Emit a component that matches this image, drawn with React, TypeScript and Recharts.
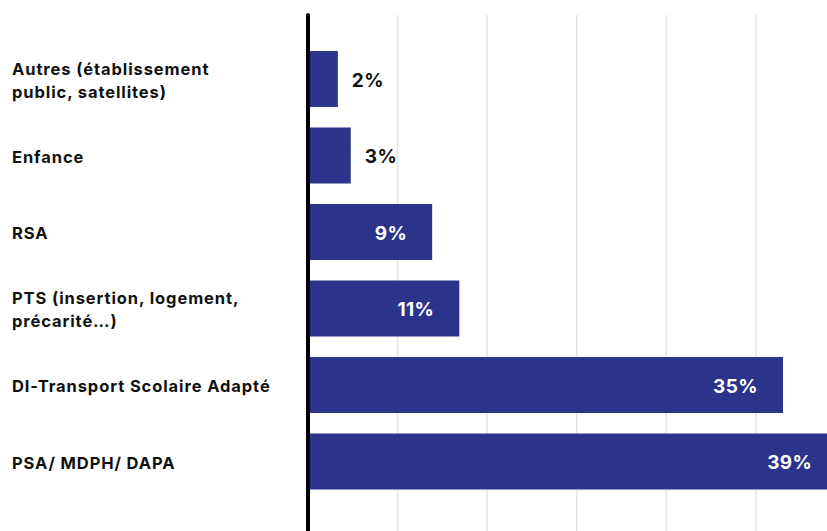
import { Bar, BarChart, CartesianGrid, LabelList, XAxis, YAxis } from "recharts";

const categories = [
  "Autres (établissement\npublic, satellites)",
  "Enfance",
  "RSA",
  "PTS (insertion, logement,\nprécarité…)",
  "DI-Transport Scolaire Adapté",
  "PSA/ MDPH/ DAPA",
];
const shares = [2.2, 3.15, 9.15, 11.15, 35.0, 39.0];
const gridTicks = [0, 6.6, 13.2, 19.8, 26.4, 33, 39.6];

const data = categories.map((name, i) => ({ name, value: shares[i] }));

const FONT = "Inter, 'Noto Sans', sans-serif";
const BAR_COLOR = "#29348a";
const DOMAIN_MAX = 42;

function CategoryTick(props: any) {
  const { y, payload } = props;
  const lines = String(payload.value).split("\n");
  const lh = 23;
  const y0 = y - ((lines.length - 1) * lh) / 2 + 1;
  return (
    <text x={12} y={y0} fontFamily={FONT} fontSize={16.5} fontWeight={700} letterSpacing={0.9} fill="#111" textAnchor="start">
      {lines.map((l, i) => (
        <tspan key={i} x={12} y={y0 + i * lh} dominantBaseline="central">
          {l}
        </tspan>
      ))}
    </text>
  );
}

function ValueLabel(props: any) {
  const { x, y, width, height, value } = props;
  const txt = `${Math.round(value)}%`;
  const inside = value > 5;
  return (
    <text
      x={inside ? x + width - 25 : x + width + 14}
      y={y + height / 2 + 1}
      textAnchor={inside ? "end" : "start"}
      dominantBaseline="central"
      fontFamily={FONT}
      fontSize={19}
      fontWeight={700}
      letterSpacing={0.4}
      fill={inside ? "#fff" : "#111"}
    >
      {txt}
    </text>
  );
}

// grid lines at the tick values, placed through the x scale
function gridX({ xAxis, offset }: any) {
  if (xAxis && typeof xAxis.scale === "function") {
    return gridTicks.map((t) => xAxis.scale(t));
  }
  return gridTicks.map((t) => offset.left + (t / DOMAIN_MAX) * offset.width);
}

export default function App() {
  return (
    <div style={{ position: "absolute", left: 0, top: 0, width: 827, height: 531, overflow: "hidden", background: "#fff" }}>
      <BarChart
        width={878}
        height={531}
        data={data}
        layout="vertical"
        margin={{ top: 15, right: 0, bottom: 0, left: 0 }}
      >
        <CartesianGrid horizontal={false} stroke="#e4e4ea" strokeWidth={1.5} verticalCoordinatesGenerator={gridX} />
        <XAxis
          type="number"
          domain={[0, DOMAIN_MAX]}
          ticks={gridTicks}
          allowDataOverflow
          tick={false}
          tickLine={false}
          axisLine={false}
          height={0}
        />
        <YAxis
          type="category"
          dataKey="name"
          width={308}
          tick={<CategoryTick />}
          tickLine={false}
          axisLine={{ stroke: "#000", strokeWidth: 4, strokeLinecap: "round" }}
          padding={{ top: 26, bottom: 31 }}
          interval={0}
        />
        <Bar dataKey="value" fill={BAR_COLOR} barSize={56} isAnimationActive={false}>
          <LabelList dataKey="value" content={<ValueLabel />} />
        </Bar>
      </BarChart>
    </div>
  );
}
